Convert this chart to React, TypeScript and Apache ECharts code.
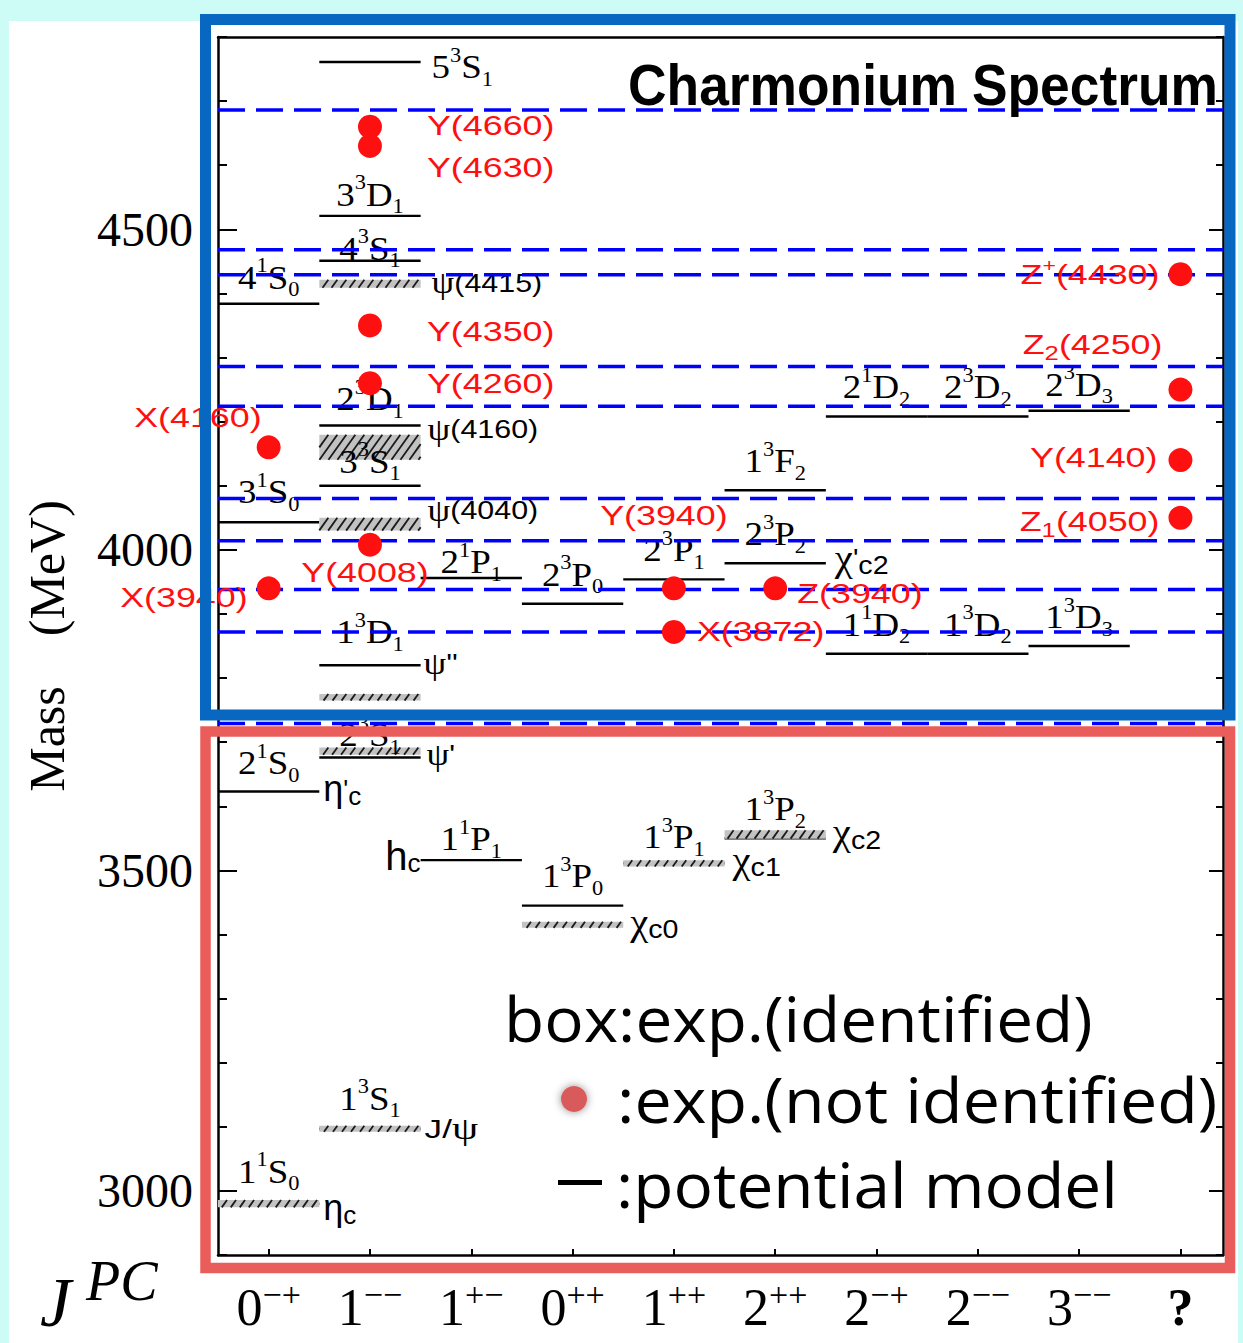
import { useEffect, useRef } from 'react';
import * as echarts from 'echarts';

// J^PC of each column: [J, PC]
const JPC_LABELS: [string, string][] = [
  ['0', '−+'], ['1', '−−'], ['1', '+−'], ['0', '++'], ['1', '++'],
  ['2', '++'], ['2', '−+'], ['2', '−−'], ['3', '−−'], ['?', ''],
];
const COLUMN_INDEX = [0, 1, 2, 3, 4, 5, 6, 7, 8, 9];
const MASS_LABELS = [3000, 3500, 4000, 4500];

// potential-model levels: [column, mass (MeV), n, 2S+1, L, J]
const modelLevels: [number, number, string, string, string, string][] = [
  [0, 4384, '4', '1', 'S', '0'],
  [0, 4043, '3', '1', 'S', '0'],
  [0, 3623, '2', '1', 'S', '0'],
  [0, 2980, '1', '1', 'S', '0'],
  [1, 4761, '5', '3', 'S', '1'],
  [1, 4521, '3', '3', 'D', '1'],
  [1, 4451, '4', '3', 'S', '1'],
  [1, 4194, '2', '3', 'D', '1'],
  [1, 4100, '3', '3', 'S', '1'],
  [1, 3820, '1', '3', 'D', '1'],
  [1, 3676, '2', '3', 'S', '1'],
  [1, 3097, '1', '3', 'S', '1'],
  [2, 3956, '2', '1', 'P', '1'],
  [2, 3516, '1', '1', 'P', '1'],
  [3, 3916, '2', '3', 'P', '0'],
  [3, 3445, '1', '3', 'P', '0'],
  [4, 3954, '2', '3', 'P', '1'],
  [4, 3511, '1', '3', 'P', '1'],
  [5, 4093, '1', '3', 'F', '2'],
  [5, 3979, '2', '3', 'P', '2'],
  [5, 3550, '1', '3', 'P', '2'],
  [6, 4208, '2', '1', 'D', '2'],
  [6, 3838, '1', '1', 'D', '2'],
  [7, 4208, '2', '3', 'D', '2'],
  [7, 3838, '1', '3', 'D', '2'],
  [8, 4217, '2', '3', 'D', '3'],
  [8, 3850, '1', '3', 'D', '3'],
];

// identified states (hatched boxes): [column, mass (MeV), half width (MeV)]
const observedStates: [number, number, number][] = [
  [0, 2980, 5.7],
  [1, 3097, 4.7],
  [1, 3686, 5.7],
  [1, 3770, 5.2],
  [1, 4040, 10],
  [1, 4160, 19.5],
  [1, 4415, 6.3],
  [3, 3415, 4.7],
  [4, 3511, 4.9],
  [5, 3556, 6.5],
];

// names of the identified states: [column, mass (MeV), name]
const stateNames: [number, number, string][] = [
  [0, 3623, "η'_c"],
  [0, 2980, 'η_c'],
  [1, 4415, 'ψ(4415)'],
  [1, 4160, 'ψ(4160)'],
  [1, 4040, 'ψ(4040)'],
  [1, 3820, "ψ''"],
  [1, 3686, "ψ'"],
  [1, 3097, 'J/ψ'],
  [2, 3516, 'h_c'],
  [3, 3415, 'χ_c0'],
  [4, 3511, 'χ_c1'],
  [5, 3979, "χ'_c2"],
  [5, 3556, 'χ_c2'],
];

// states not identified yet: [column, mass (MeV), name]
const exoticStates: [number, number, string][] = [
  [0, 4160, 'X(4160)'],
  [0, 3940, 'X(3940)'],
  [1, 4660, 'Y(4660)'],
  [1, 4630, 'Y(4630)'],
  [1, 4350, 'Y(4350)'],
  [1, 4260, 'Y(4260)'],
  [1, 4008, 'Y(4008)'],
  [4, 3940, 'Y(3940)'],
  [4, 3872, 'X(3872)'],
  [5, 3940, 'Z(3940)'],
  [9, 4430, 'Z^+(4430)'],
  [9, 4250, 'Z_2(4250)'],
  [9, 4140, 'Y(4140)'],
  [9, 4050, 'Z_1(4050)'],
];

// open-charm thresholds (MeV)
const thresholds = [3729, 3872, 3938, 4014, 4080, 4224, 4286, 4429, 4468, 4686];

// ---- label layout (pixels) ----
const SERIF = '"Liberation Serif", "Times New Roman", serif';
const SANS = '"Liberation Sans", Arial, Helvetica, sans-serif';
const LEGEND_FONT = '"Open Sans", "Noto Sans", sans-serif';
const RED = '#ff1010';

// distance of the term's baseline above its level line
const TERM_LIFT: Record<string, number> = {
  '41S0': 15, '31S0': 19, '21S0': 17, '11S0': 21,
  '33D1': 10, '43S1': 1, '23D1': 15, '33S1': 13, '13D1': 22, '23S1': 11, '13S1': 19,
  '21P1': 5, '11P1': 10, '13P1': 15, '13P2': 18, '23D3': 15,
};
const DEFAULT_LIFT = 18;
// terms written to the right of their line: [dx from line end, dy]
const TERM_RIGHT: Record<string, [number, number]> = { '53S1': [11, 5] };

// state names: [side, dx from column edge, dy, horizontal stretch]
const NAME_LAYOUT: Record<string, [string, number, number, number]> = {
  "η'_c": ['right', 4, -3, 1.0], 'η_c': ['right', 4, 4, 1.0],
  'ψ(4415)': ['right', 11, -1, 1.17], 'ψ(4160)': ['right', 7, -18, 1.17], 'ψ(4040)': ['right', 7, -14, 1.17],
  "ψ''": ['right', 3, -2, 1.17], "ψ'": ['right', 6, 3, 1.17], 'J/ψ': ['right', 4, 0, 1.35],
  'h_c': ['left', 0, -4, 1.0],
  'χ_c0': ['right', 7, -3, 1.1], 'χ_c1': ['right', 8, -3, 1.1], "χ'_c2": ['right', 9, -5, 1.1], 'χ_c2': ['right', 7, -2, 1.1],
};

// red names: [side of the dot, dx, dy]
const EXOTIC_LAYOUT: Record<string, [string, number, number]> = {
  'X(4160)': ['left', 7, -30], 'X(3940)': ['left', 21, 9],
  'Y(4660)': ['right', 57, -1], 'Y(4630)': ['right', 57, 21], 'Y(4350)': ['right', 57, 6],
  'Y(4260)': ['right', 57, 0], 'Y(4008)': ['center', -5, 28],
  'Y(3940)': ['center', -10, -73], 'X(3872)': ['right', 23, 0], 'Z(3940)': ['right', 22, 5],
  'Z^+(4430)': ['left', 21, 0], 'Z_2(4250)': ['left', 18, -45],
  'Y(4140)': ['left', 23, -3], 'Z_1(4050)': ['left', 21, 4],
};

const TERM_RICH = {
  m: { fontFamily: SERIF, fontSize: 33, lineHeight: 44, fill: '#000' },
  p: { fontFamily: SERIF, fontSize: 20, lineHeight: 29, verticalAlign: 'top', fill: '#000' },
  b: { fontFamily: SERIF, fontSize: 20, lineHeight: 13, verticalAlign: 'bottom', fill: '#000' },
};
const NAME_RICH = {
  t: { fontFamily: SANS, fontSize: 26, lineHeight: 40, fill: '#000' },
  h: { fontFamily: SANS, fontSize: 40, lineHeight: 40, fill: '#000' },
  psi: { fontFamily: SERIF, fontSize: 31, lineHeight: 40, fill: '#000' },
  chi: { fontFamily: SERIF, fontSize: 37, lineHeight: 40, fill: '#000' },
  eta: { fontFamily: SANS, fontSize: 36, lineHeight: 40, fill: '#000' },
  b: { fontFamily: SANS, fontSize: 26, lineHeight: 12, verticalAlign: 'bottom', fill: '#000' },
};
const GREEK_TOKEN: Record<string, string> = { 'ψ': 'psi', 'χ': 'chi', 'η': 'eta' };
const RED_RICH = {
  r: { fontFamily: SANS, fontSize: 28, lineHeight: 36, fill: RED },
  rp: { fontFamily: SANS, fontSize: 18, lineHeight: 22, verticalAlign: 'top', fill: RED },
  rb: { fontFamily: SANS, fontSize: 20, lineHeight: 20, verticalAlign: 'bottom', fill: RED },
};

function nameMarkup(name: string): string {
  const [main, sub] = name.split('_');
  const parts = main.match(/[ψηχ]|[^ψηχ]+/g) || [];
  const body = parts
    .map((s) => (GREEK_TOKEN[s] ? `{${GREEK_TOKEN[s]}|${s}}` : s === 'h' ? `{h|h}` : `{t|${s}}`))
    .join('');
  return sub ? `${body}{b|${sub}}` : body;
}

function exoticMarkup(name: string): string {
  return name.replace(/([^^_]+)|\^(.)|_(.)/g, (_m, t, sup, sub) =>
    t ? `{r|${t}}` : sup ? `{rp|${sup}}` : `{rb|${sub}}`);
}

function jpcLabel(v: number): string {
  const [j, pc] = JPC_LABELS[Math.round(v)] || ['', ''];
  return j === '?' ? '{q|?}' : `{m|${j}}{s|${pc}}`;
}

const axisLineStyle = { color: '#000', width: 2.5 };
const tickStyle = { color: '#000', width: 2 };

function massAxis(position: string, tickLen: number, major: boolean, withLabels: boolean): any {
  return {
    type: 'value',
    min: 2900,
    max: 4800,
    ...(major ? {} : { interval: 100 }),
    position,
    axisLine: { show: !major, onZero: false, lineStyle: axisLineStyle },
    axisTick: {
      show: true, inside: true, length: tickLen, lineStyle: tickStyle,
      ...(major ? { customValues: MASS_LABELS } : {}),
    },
    axisLabel: withLabels
      ? {
          show: true, customValues: MASS_LABELS, formatter: (v: number) => String(v),
          fontFamily: SERIF, fontSize: 48, color: '#000', margin: 25,
        }
      : { show: false },
    splitLine: { show: false },
    ...(withLabels
      ? {
          name: 'Mass\u3000(MeV)',
          nameLocation: 'middle',
          nameGap: 146,
          nameTextStyle: { fontFamily: SERIF, fontSize: 50, color: '#000' },
        }
      : {}),
  };
}

function buildOption(): any {
  return {
    animation: false,
    backgroundColor: 'transparent',
    grid: { left: 218, top: 37, right: 20, bottom: 88, containLabel: false, outerBoundsMode: 'none' },
    xAxis: [
      {
        type: 'value', min: -0.5, max: 9.42, position: 'bottom',
        axisLine: { show: true, onZero: false, lineStyle: axisLineStyle },
        axisTick: { show: true, inside: true, length: 6, customValues: COLUMN_INDEX, lineStyle: tickStyle },
        axisLabel: {
          show: true, customValues: COLUMN_INDEX, margin: 22, formatter: jpcLabel,
          rich: {
            m: { fontFamily: SERIF, fontSize: 52, lineHeight: 60, color: '#000' },
            s: { fontFamily: SERIF, fontSize: 34, lineHeight: 6, verticalAlign: 'top', color: '#000' },
            q: { fontFamily: SERIF, fontSize: 52, lineHeight: 60, fontWeight: 'bold', color: '#000' },
          },
        },
        splitLine: { show: false },
      },
      {
        type: 'value', min: -0.5, max: 9.42, position: 'top',
        axisLine: { show: true, onZero: false, lineStyle: axisLineStyle },
        axisTick: { show: false }, axisLabel: { show: false }, splitLine: { show: false },
      },
    ],
    yAxis: [
      massAxis('left', 9, false, true),
      massAxis('left', 19, true, false),
      massAxis('right', 7, false, false),
      massAxis('right', 14, true, false),
    ],
    series: [
      {
        // potential-model levels
        type: 'custom', name: 'potential model', z: 2, silent: true,
        data: modelLevels.map((l) => [l[0], l[1]]),
        renderItem: (_p: any, api: any) => {
          const col = api.value(0), m = api.value(1);
          const a = api.coord([col - 0.5, m]);
          const b = api.coord([col + 0.5, m]);
          return {
            type: 'line',
            shape: { x1: a[0], y1: a[1], x2: b[0], y2: b[1] },
            style: { stroke: '#000', lineWidth: 2.4 },
          };
        },
      },
      {
        // identified states: grey hatched boxes
        type: 'custom', name: 'exp. (identified)', z: 3, silent: true,
        data: observedStates.map((s) => [s[0], s[1], s[2]]),
        renderItem: (_p: any, api: any) => {
          const col = api.value(0), m = api.value(1), hw = api.value(2);
          const tl = api.coord([col - 0.5, m + hw]);
          const br = api.coord([col + 0.5, m - hw]);
          const x0 = tl[0], y0 = tl[1];
          const W = br[0] - tl[0], H = br[1] - tl[1];
          const children: any[] = [
            { type: 'rect', shape: { x: x0, y: y0, width: W, height: H }, style: { fill: '#c2c2c2' } },
          ];
          const step = 9;
          const slope = 1.4;
          for (let c = -H / slope; c < W; c += step) {
            const v0 = Math.max(0, -c * slope);
            const v1 = Math.min(H, (W - c) * slope);
            if (v1 <= v0) continue;
            children.push({
              type: 'line',
              shape: {
                x1: x0 + c + v0 / slope, y1: y0 + H - v0,
                x2: x0 + c + v1 / slope, y2: y0 + H - v1,
              },
              style: { stroke: '#1a1a1a', lineWidth: 1.8 },
            });
          }
          return { type: 'group', children };
        },
      },
      {
        // spectroscopic terms n^{2S+1}L_J
        type: 'custom', name: 'terms', z: 4, silent: true,
        data: modelLevels.map((l) => [l[0], l[1]]),
        renderItem: (p: any, api: any) => {
          const [col, m, n, s, L, J] = modelLevels[p.dataIndex];
          const key = n + s + L + J;
          const c = api.coord([col, m]);
          const half = api.size([1, 0])[0] / 2;
          const right = TERM_RIGHT[key];
          const lift = TERM_LIFT[key] ?? DEFAULT_LIFT;
          const x = right ? c[0] + half + right[0] : c[0];
          const y = right ? c[1] + right[1] : c[1] - lift - 11;
          return {
            type: 'text', x, y, scaleX: 1.12,
            style: {
              x: 0, y: 0,
              text: `{m|${n}}{p|${s}}{m|${L}}{b|${J}}`,
              rich: TERM_RICH,
              align: right ? 'left' : 'center',
              verticalAlign: 'middle',
            },
          };
        },
      },
      {
        // names of identified states
        type: 'custom', name: 'state names', z: 4, silent: true,
        data: stateNames.map((s) => [s[0], s[1]]),
        renderItem: (p: any, api: any) => {
          const [col, m, name] = stateNames[p.dataIndex];
          const [side, dx, dy, stretch] = NAME_LAYOUT[name] || ['right', 6, 0, 1.15];
          const c = api.coord([col, m]);
          const half = api.size([1, 0])[0] / 2;
          const x = side === 'left' ? c[0] - half - dx : c[0] + half + dx;
          return {
            type: 'text', x, y: c[1] + dy, scaleX: stretch,
            style: {
              x: 0, y: 0, text: nameMarkup(name), rich: NAME_RICH,
              align: side === 'left' ? 'right' : 'left', verticalAlign: 'middle',
            },
          };
        },
      },
      {
        // thresholds
        type: 'custom', name: 'thresholds', z: 5, silent: true,
        data: thresholds.map((t) => [0, t]),
        renderItem: (p: any, api: any) => {
          const cs = p.coordSys;
          const y = api.coord([0, api.value(1)])[1];
          return {
            type: 'line',
            shape: { x1: cs.x, y1: y, x2: cs.x + cs.width, y2: y },
            style: { stroke: '#0000ff', lineWidth: 3.5, lineDash: [27, 11] },
          };
        },
      },
      {
        // states not identified yet
        type: 'custom', name: 'exp. (not identified)', z: 6, silent: true,
        data: exoticStates.map((e) => [e[0], e[1]]),
        renderItem: (p: any, api: any) => {
          const [col, m, name] = exoticStates[p.dataIndex];
          const [side, dx, dy] = EXOTIC_LAYOUT[name] || ['right', 20, 0];
          const c = api.coord([col, m]);
          const x = side === 'left' ? c[0] - dx : c[0] + dx;
          return {
            type: 'group',
            children: [
              { type: 'circle', shape: { cx: c[0], cy: c[1], r: 12 }, style: { fill: RED } },
              {
                type: 'text', x, y: c[1] + dy, scaleX: 1.28,
                style: {
                  x: 0, y: 0, text: exoticMarkup(name), rich: RED_RICH,
                  align: side === 'left' ? 'right' : side === 'center' ? 'center' : 'left',
                  verticalAlign: 'middle',
                },
              },
            ],
          };
        },
      },
    ],
    graphic: {
      elements: [
        {
          type: 'text', x: 923, y: 85, scaleX: 0.92, z: 50,
          style: {
            x: 0, y: 0, text: 'Charmonium Spectrum', fill: '#000',
            font: `bold 58px ${SANS}`, align: 'center', verticalAlign: 'middle',
          },
        },
        {
          type: 'text', x: 504, y: 1018, scaleX: 1.06, z: 50,
          style: {
            x: 0, y: 0, text: 'box:exp.(identified)', fill: '#000',
            font: `62px ${LEGEND_FONT}`, align: 'left', verticalAlign: 'middle',
          },
        },
        {
          type: 'circle', z: 50, shape: { cx: 574, cy: 1099, r: 13 },
          style: { fill: '#d95a5a', shadowBlur: 8, shadowColor: 'rgba(0,0,0,0.45)' },
        },
        {
          type: 'text', x: 617, y: 1099, scaleX: 1.07, z: 50,
          style: {
            x: 0, y: 0, text: ':exp.(not identified)', fill: '#000',
            font: `62px ${LEGEND_FONT}`, align: 'left', verticalAlign: 'middle',
          },
        },
        { type: 'rect', z: 50, shape: { x: 558, y: 1180, width: 44, height: 5 }, style: { fill: '#000' } },
        {
          type: 'text', x: 616, y: 1184, scaleX: 1.06, z: 50,
          style: {
            x: 0, y: 0, text: ':potential model', fill: '#000',
            font: `62px ${LEGEND_FONT}`, align: 'left', verticalAlign: 'middle',
          },
        },
        {
          type: 'text', x: 40, y: 1302, z: 50,
          style: {
            x: 0, y: 0, text: 'J', fill: '#000',
            font: `italic 70px ${SERIF}`, align: 'left', verticalAlign: 'middle',
          },
        },
        {
          type: 'text', x: 86, y: 1281, z: 50,
          style: {
            x: 0, y: 0, text: 'PC', fill: '#000',
            font: `italic 56px ${SERIF}`, align: 'left', verticalAlign: 'middle',
          },
        },
        {
          type: 'rect', z: 100, shape: { x: 205.5, y: 19.5, width: 1024.5, height: 695.5 },
          style: { fill: 'transparent', stroke: '#0767c1', lineWidth: 11 },
        },
        {
          type: 'rect', z: 100, shape: { x: 205.5, y: 731.5, width: 1024.5, height: 536.5 },
          style: { fill: 'transparent', stroke: '#e95d5a', lineWidth: 10.5 },
        },
      ],
    },
  };
}

export default function App() {
  const ref = useRef<HTMLDivElement>(null);
  useEffect(() => {
    const chart = echarts.init(ref.current!, null, { renderer: 'svg' });
    chart.setOption(buildOption());
    return () => chart.dispose();
  }, []);
  return (
    <div
      style={{
        position: 'fixed', left: 0, top: 0, width: 1243, height: 1343,
        background: '#cdfbf5', overflow: 'hidden',
      }}
    >
      <div style={{ position: 'absolute', left: 9, top: 21, width: 1229, height: 1322, background: '#fff' }} />
      <div ref={ref} style={{ position: 'absolute', left: 0, top: 0, width: 1243, height: 1343 }} />
    </div>
  );
}
